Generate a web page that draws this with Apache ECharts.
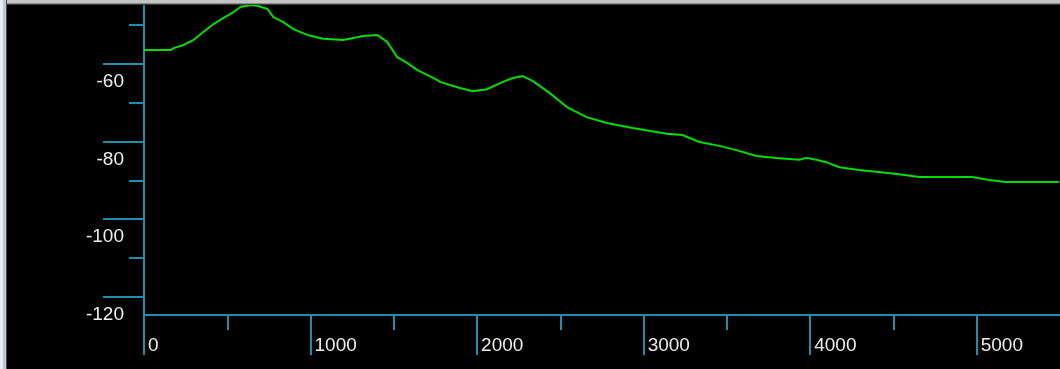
<!DOCTYPE html>
<html>
<head>
<meta charset="utf-8">
<script src="https://cdn.jsdelivr.net/npm/echarts@6/dist/echarts.min.js"></script>
<style>
  html, body { margin: 0; padding: 0; background: #000; overflow: hidden; }
  #chart { position: absolute; left: 0; top: 0; width: 1060px; height: 369px; }
  .frame-top { position: absolute; left: 0; top: 0; width: 1060px; height: 3px; background: #c4c4c4; border-bottom: 1px solid #8c8c8c; box-shadow: 0 1px 0 #3c3c3c; }
  .frame-left { position: absolute; left: 0; top: 0; width: 3px; height: 369px; background: #e8edf3; border-right: 3px solid #b8c8da; box-shadow: 1px 0 0 #4a4a4a; }
</style>
</head>
<body>
<div id="chart"></div>
<div class="frame-top"></div>
<div class="frame-left"></div>
<script>
// Spectrum level (dB) against frequency (Hz)
const freqHz = [
  0, 160, 178, 238, 298, 358, 418, 478, 537, 579, 639, 681, 741, 777, 837, 897,
  981, 1077, 1197, 1256, 1316, 1400, 1460, 1520, 1580, 1640, 1760, 1777, 1897, 1975,
  2059, 2155, 2215, 2275, 2335, 2437, 2539, 2658, 2778, 2934, 3138, 3233, 3335, 3455,
  3557, 3677, 3797, 3935, 3977, 4037, 4097, 4175, 4294, 4396, 4534, 4654, 4972, 5074,
  5176, 5493
];
const levelDb = [
  -56.4, -56.4, -55.9, -55.1, -53.8, -51.7, -49.7, -48.1, -46.6, -45.3, -44.8, -45.0, -45.8, -47.9, -49.2, -51.0,
  -52.5, -53.5, -53.8, -53.3, -52.8, -52.5, -54.3, -58.2, -59.7, -61.5, -64.1, -64.6, -66.2, -67.0,
  -66.5, -64.6, -63.6, -63.1, -64.4, -67.5, -71.1, -73.7, -75.2, -76.5, -78.0, -78.3, -80.1, -81.1,
  -82.2, -83.7, -84.2, -84.7, -84.2, -84.7, -85.3, -86.6, -87.3, -87.8, -88.4, -89.1, -89.1, -89.9,
  -90.4, -90.4
];

// Axis ticks
const xMajorTicks = [0, 1000, 2000, 3000, 4000, 5000];
const xMinorTicks = [500, 1500, 2500, 3500, 4500];
const yMajorTicks = [-120, -100, -80, -60];
const yMinorTicks = [-110, -90, -70, -50];

const axisColor = '#1d8fa9';
const labelFont = { color: '#ececec', fontFamily: 'Liberation Sans, Arial, sans-serif', fontSize: 19 };

const chart = echarts.init(document.getElementById('chart'), null, { renderer: 'canvas' });

const xBase = { type: 'value', min: 0, max: 5500, splitLine: { show: false } };
const yBase = { type: 'value', min: -124.7, max: -43.5, splitLine: { show: false } };

chart.setOption({
  backgroundColor: '#000',
  animation: false,
  grid: { left: 144, top: 0, right: -2, bottom: 54, containLabel: false },
  xAxis: [
    Object.assign({}, xBase, {
      position: 'bottom',
      axisLine: { show: true, lineStyle: { color: axisColor, width: 2 } },
      axisTick: { show: true, length: 40, customValues: xMajorTicks, lineStyle: { color: axisColor, width: 2 } },
      axisLabel: Object.assign({}, labelFont, {
        customValues: xMajorTicks, align: 'left', margin: 21, padding: [0, 0, 0, 4],
        formatter: v => String(v)
      })
    }),
    Object.assign({}, xBase, {
      position: 'bottom',
      axisLine: { show: false },
      axisTick: { show: true, length: 15, customValues: xMinorTicks, lineStyle: { color: axisColor, width: 2 } },
      axisLabel: { show: false }
    })
  ],
  yAxis: [
    Object.assign({}, yBase, {
      position: 'left',
      axisLine: { show: true, lineStyle: { color: axisColor, width: 2 } },
      axisTick: { show: true, length: 41, customValues: yMajorTicks, lineStyle: { color: axisColor, width: 2 } },
      // labels hang below their tick marks
      axisLabel: Object.assign({}, labelFont, {
        customValues: yMajorTicks, align: 'right', margin: 20,
        verticalAlign: 'top', lineHeight: 36,
        formatter: v => String(v)
      })
    }),
    Object.assign({}, yBase, {
      position: 'left',
      axisLine: { show: false },
      axisTick: { show: true, length: 15, customValues: yMinorTicks, lineStyle: { color: axisColor, width: 2 } },
      axisLabel: { show: false }
    })
  ],
  series: [{
    type: 'line',
    xAxisIndex: 0,
    yAxisIndex: 0,
    data: freqHz.map((f, i) => [f, levelDb[i]]),
    showSymbol: false,
    clip: false,
    lineStyle: { color: '#00dd00', width: 2 }
  }]
});
</script>
</body>
</html>
